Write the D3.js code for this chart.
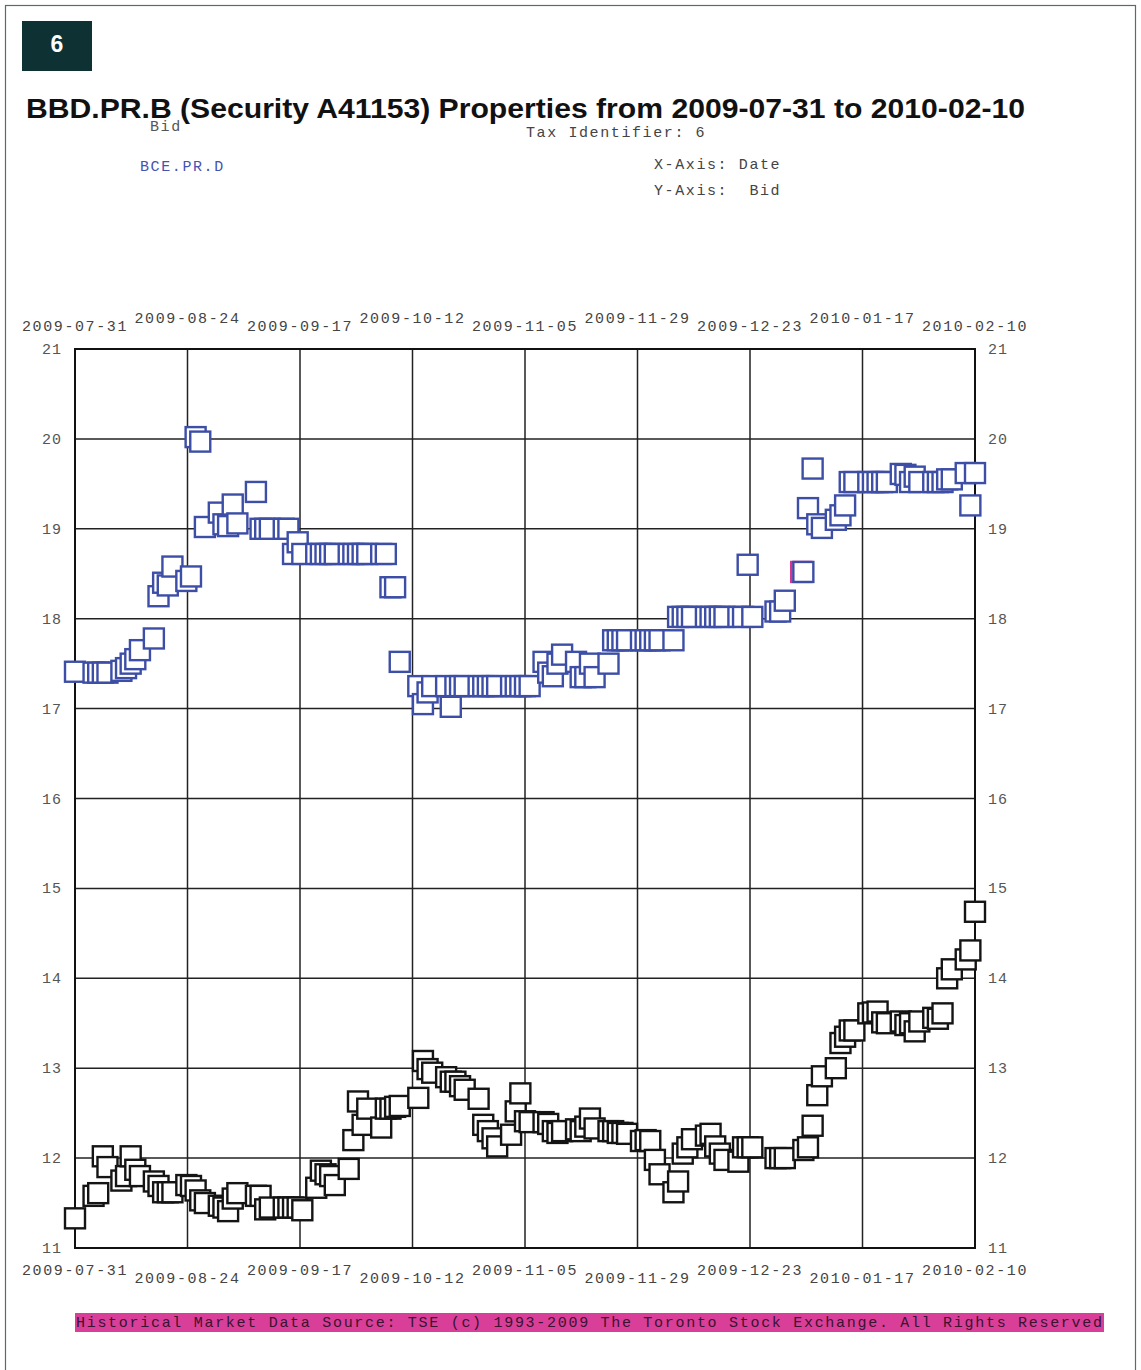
<!DOCTYPE html>
<html>
<head>
<meta charset="utf-8">
<script src="https://cdn.jsdelivr.net/npm/d3@7"></script>
<style>
  html, body { margin: 0; padding: 0; background: #fff; }
  svg { display: block; }
</style>
</head>
<body>
<svg id="chart" width="1141" height="1370"></svg>
<script>
// Trading days in the report window
const tradeDates = [
  "2009-07-31",
  "2009-08-04","2009-08-05","2009-08-06","2009-08-07",
  "2009-08-10","2009-08-11","2009-08-12","2009-08-13","2009-08-14",
  "2009-08-17","2009-08-18","2009-08-19","2009-08-20","2009-08-21",
  "2009-08-24","2009-08-25","2009-08-26","2009-08-27","2009-08-28",
  "2009-08-31","2009-09-01","2009-09-02","2009-09-03","2009-09-04",
  "2009-09-08","2009-09-09","2009-09-10","2009-09-11",
  "2009-09-14","2009-09-15","2009-09-16","2009-09-17","2009-09-18",
  "2009-09-21","2009-09-22","2009-09-23","2009-09-24","2009-09-25",
  "2009-09-28","2009-09-29","2009-09-30","2009-10-01","2009-10-02",
  "2009-10-05","2009-10-06","2009-10-07","2009-10-08","2009-10-09",
  "2009-10-13","2009-10-14","2009-10-15","2009-10-16",
  "2009-10-19","2009-10-20","2009-10-21","2009-10-22","2009-10-23",
  "2009-10-26","2009-10-27","2009-10-28","2009-10-29","2009-10-30",
  "2009-11-02","2009-11-03","2009-11-04","2009-11-05","2009-11-06",
  "2009-11-09","2009-11-10","2009-11-11","2009-11-12","2009-11-13",
  "2009-11-16","2009-11-17","2009-11-18","2009-11-19","2009-11-20",
  "2009-11-23","2009-11-24","2009-11-25","2009-11-26","2009-11-27",
  "2009-11-30","2009-12-01","2009-12-02","2009-12-03","2009-12-04",
  "2009-12-07","2009-12-08","2009-12-09","2009-12-10","2009-12-11",
  "2009-12-14","2009-12-15","2009-12-16","2009-12-17","2009-12-18",
  "2009-12-21","2009-12-22","2009-12-23","2009-12-24",
  "2009-12-29","2009-12-30","2009-12-31",
  "2010-01-04","2010-01-05","2010-01-06","2010-01-07","2010-01-08",
  "2010-01-11","2010-01-12","2010-01-13","2010-01-14","2010-01-15",
  "2010-01-18","2010-01-19","2010-01-20","2010-01-21","2010-01-22",
  "2010-01-25","2010-01-26","2010-01-27","2010-01-28","2010-01-29",
  "2010-02-01","2010-02-02","2010-02-03","2010-02-04","2010-02-05",
  "2010-02-08","2010-02-09","2010-02-10"
];

// BBD.PR.B bid
const bbdBid = [
  11.33,
  11.58, 11.61, 12.02, 11.90,
  11.75, 11.80, 12.02, 11.87, 11.80,
  11.74, 11.69, 11.62, 11.62, 11.62,
  11.70, 11.69, 11.64, 11.53, 11.50,
  11.47, 11.45, 11.41, 11.55, 11.61,
  11.58, 11.58, 11.43, 11.45,
  11.45, 11.45, 11.45, 11.45, 11.42,
  11.67, 11.86, 11.82, 11.80, 11.70,
  11.88, 12.20, 12.63, 12.37, 12.55,
  12.34, 12.55, 12.55, 12.57, 12.58,
  12.67, 13.08, 12.99, 12.95,
  12.90, 12.85, 12.85, 12.80, 12.76,
  12.66, 12.37, 12.30, 12.22, 12.13,
  12.26, 12.52, 12.72, 12.41, 12.40,
  12.40, 12.38, 12.30, 12.28, 12.30,
  12.32, 12.30, 12.35, 12.44, 12.33,
  12.30, 12.30, 12.28, 12.28, 12.27,
  12.19, 12.20, 12.19, 11.98, 11.82,
  11.62, 11.74, 12.05, 12.12, 12.21,
  12.25, 12.27, 12.13, 12.05, 11.98,
  11.96, 12.12, 12.12, 12.12,
  12.00, 12.00, 12.00,
  12.09, 12.12, 12.36, 12.70, 12.91,
  13.00, 13.28, 13.35, 13.42, 13.42,
  13.61, 13.62, 13.63, 13.51, 13.50,
  13.52, 13.48, 13.50, 13.41, 13.52,
  13.56, 13.55, 13.61, 14.00, 14.10,
  14.21, 14.31, 14.74
];

// BCE.PR.D bid
const bceBid = [
  17.41,
  17.40, 17.40, 17.40, 17.40,
  17.42, 17.45, 17.50, 17.55, 17.65,
  17.78, 18.25, 18.40, 18.37, 18.58,
  18.42, 18.47, 20.02, 19.97, 19.02,
  19.18, 19.05, 19.03, 19.27, 19.06,
  19.41, 19.00, 19.00, 19.00,
  19.00, 19.00, 18.72, 18.85, 18.72,
  18.72, 18.72, 18.72, 18.72, 18.72,
  18.72, 18.72, 18.72, 18.72, 18.72,
  18.72, 18.72, 18.35, 18.35, 17.52,
  17.25, 17.05, 17.18, 17.25,
  17.25, 17.02, 17.25, 17.25, 17.25,
  17.25, 17.25, 17.25, 17.25, 17.25,
  17.25, 17.25, 17.25, 17.25, 17.25,
  17.52, 17.40, 17.36, 17.50, 17.60,
  17.52, 17.35, 17.35, 17.50, 17.35,
  17.50, 17.76, 17.76, 17.76, 17.76,
  17.76, 17.76, 17.76, 17.76, 17.76,
  17.76, 18.02, 18.02, 18.02, 18.02,
  18.02, 18.02, 18.02, 18.02, 18.02,
  18.02, 18.02, 18.60, 18.02,
  18.08, 18.08, 18.20,
  18.52, 19.23, 19.67, 19.05, 19.01,
  19.10, 19.15, 19.26, 19.52, 19.52,
  19.52, 19.52, 19.52, 19.52, 19.52,
  19.61, 19.60, 19.52, 19.58, 19.52,
  19.52, 19.52, 19.52, 19.55, 19.55,
  19.62, 19.26, 19.62
];

// Single flagged quote shown in magenta
const flagDates = ["2010-01-03T13:00"];
const flagBid = [18.52];

const xTickLabels = ["2009-07-31","2009-08-24","2009-09-17","2009-10-12","2009-11-05",
                     "2009-11-29","2009-12-23","2010-01-17","2010-02-10"];
const yTicks = [11, 12, 13, 14, 15, 16, 17, 18, 19, 20, 21];

const svg = d3.select("#chart");
const parse = d3.isoParse;
const mono = "'Liberation Mono', 'DejaVu Sans Mono', monospace";

// Page frame
svg.append("rect").attr("x", 5.5).attr("y", 5.5).attr("width", 1130).attr("height", 1380)
  .attr("fill", "none").attr("stroke", "#5b6b6b").attr("stroke-width", 1.2);

// Page number badge
svg.append("rect").attr("x", 22).attr("y", 21).attr("width", 70).attr("height", 50).attr("fill", "#0e3134");
svg.append("text").attr("x", 57).attr("y", 52).attr("text-anchor", "middle")
  .attr("font-family", "'Liberation Sans', Arial, sans-serif").attr("font-weight", "bold")
  .attr("font-size", 23).attr("fill", "#fff").text("6");

// Title block
svg.append("text").attr("x", 26).attr("y", 118)
  .attr("font-family", "'Liberation Sans', Arial, sans-serif").attr("font-weight", "bold")
  .attr("font-size", 28).attr("fill", "#111").attr("textLength", 999).attr("lengthAdjust", "spacingAndGlyphs")
  .text("BBD.PR.B (Security A41153) Properties from 2009-07-31 to 2010-02-10");

const small = (xp, yp, t, color) => svg.append("text").attr("x", xp).attr("y", yp)
  .attr("font-family", mono).attr("font-size", 15).attr("fill", color || "#444")
  .attr("letter-spacing", 1.6).style("white-space", "pre").text(t);

small(150, 131, "Bid", "#555");
small(526, 137, "Tax Identifier: 6", "#444");
small(140, 171, "BCE.PR.D", "#4652b0");
small(654, 169, "X-Axis: Date", "#444");
small(654, 195, "Y-Axis:  Bid", "#444");

// Scales
const plotL = 75, plotR = 975, plotT = 349, plotB = 1248;
const x = d3.scaleTime().domain([parse("2009-07-31"), parse("2010-02-10")]).range([plotL, plotR]);
const xGrid = d3.scalePoint().domain(xTickLabels).range([plotL, plotR]);
const y = d3.scaleLinear().domain([11, 21]).range([plotB, plotT]);

// Grid
const grid = svg.append("g");
grid.selectAll("line.v").data(xTickLabels).join("line")
  .attr("x1", d => xGrid(d)).attr("x2", d => xGrid(d)).attr("y1", plotT).attr("y2", plotB)
  .attr("stroke", "#222").attr("stroke-width", 1.5);
grid.selectAll("line.h").data(yTicks).join("line")
  .attr("x1", plotL).attr("x2", plotR).attr("y1", d => y(d)).attr("y2", d => y(d))
  .attr("stroke", "#222").attr("stroke-width", 1.5);
svg.append("rect").attr("x", plotL).attr("y", plotT).attr("width", plotR - plotL).attr("height", plotB - plotT)
  .attr("fill", "none").attr("stroke", "#111").attr("stroke-width", 2);

// X labels, staggered, top and bottom
const xLab = svg.append("g").attr("font-family", mono).attr("font-size", 15)
  .attr("fill", "#444").attr("letter-spacing", 1.6).attr("text-anchor", "middle");
xLab.selectAll("text.t").data(xTickLabels).join("text").attr("class", "t")
  .attr("x", d => xGrid(d)).attr("y", (d, i) => i % 2 === 0 ? 331 : 323).text(d => d);
xLab.selectAll("text.b").data(xTickLabels).join("text").attr("class", "b")
  .attr("x", d => xGrid(d)).attr("y", (d, i) => i % 2 === 0 ? 1275 : 1283).text(d => d);

// Y labels on both sides
const yLab = svg.append("g").attr("font-family", mono).attr("font-size", 15)
  .attr("letter-spacing", 1).attr("fill", "#555");
yLab.selectAll("text.l").data(yTicks).join("text").attr("class", "l")
  .attr("x", 62).attr("y", d => y(d) + 5).attr("text-anchor", "end").text(d => d);
yLab.selectAll("text.r").data(yTicks).join("text").attr("class", "r")
  .attr("x", 988).attr("y", d => y(d) + 5).text(d => d);

// Square markers
const S = 20;
function squares(dates, vals, color) {
  const pts = dates.map((d, i) => ({ t: parse(d), v: vals[i] })).filter(p => p.v != null);
  svg.append("g").selectAll("rect").data(pts).join("rect")
    .attr("x", p => x(p.t) - S / 2).attr("y", p => y(p.v) - S / 2)
    .attr("width", S).attr("height", S)
    .attr("fill", "#fff").attr("stroke", color).attr("stroke-width", 2.4);
}
squares(tradeDates, bbdBid, "#141414");
squares(flagDates, flagBid, "#d8338f");
squares(tradeDates, bceBid, "#3d4ea6");

// Source footer
svg.append("rect").attr("x", 75).attr("y", 1313).attr("width", 1029).attr("height", 19).attr("fill", "#d93f98");
svg.append("text").attr("x", 76).attr("y", 1327).attr("font-family", mono).attr("font-size", 15)
  .attr("fill", "#3b1230").attr("textLength", 1026).attr("lengthAdjust", "spacing")
  .text("Historical Market Data Source: TSE (c) 1993-2009 The Toronto Stock Exchange. All Rights Reserved");
</script>
</body>
</html>
